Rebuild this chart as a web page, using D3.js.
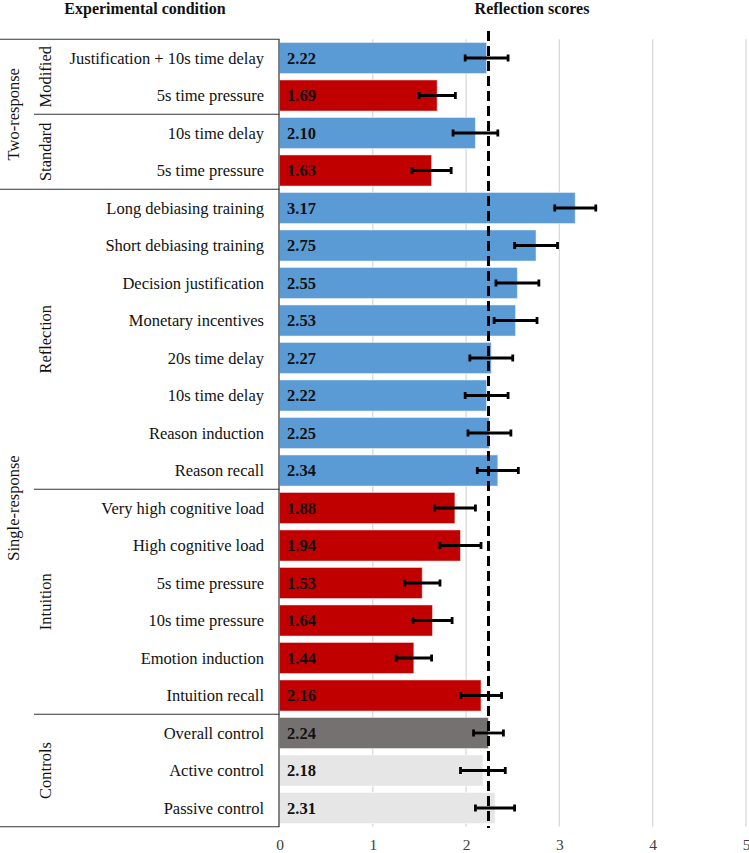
<!DOCTYPE html>
<html><head><meta charset="utf-8">
<script src="https://cdn.jsdelivr.net/npm/d3@7"></script>
<style>body{margin:0;background:#fff}svg{display:block}
svg text{font-family:"Liberation Serif","Times New Roman",Tinos,"DejaVu Serif",serif;}</style>
</head><body>
<script>
const categories = ["Justification + 10s time delay","5s time pressure","10s time delay","5s time pressure",
 "Long debiasing training","Short debiasing training","Decision justification","Monetary incentives",
 "20s time delay","10s time delay","Reason induction","Reason recall",
 "Very high cognitive load","High cognitive load","5s time pressure","10s time pressure","Emotion induction","Intuition recall",
 "Overall control","Active control","Passive control"];
const values = [2.22,1.69,2.10,1.63,3.17,2.75,2.55,2.53,2.27,2.22,2.25,2.34,1.88,1.94,1.53,1.64,1.44,2.16,2.24,2.18,2.31];
const errors = [0.23,0.195,0.24,0.21,0.22,0.23,0.23,0.23,0.23,0.23,0.23,0.22,0.22,0.22,0.19,0.21,0.19,0.22,0.16,0.24,0.21];
const kinds = ["R","I","R","I","R","R","R","R","R","R","R","R","I","I","I","I","I","I","O","C","C"];
const subGroups = [["Modified",0,1],["Standard",2,3],["Reflection",4,11],["Intuition",12,17],["Controls",18,20]];
const mainGroups = [["Two-response",0,3],["Single-response",4,20]];
const referenceValue = 2.24;
const ticks = [0,1,2,3,4,5];
const colorMap = {R:"#5B9BD5", I:"#C00000", O:"#767171", C:"#E7E6E6"};

(function(){
const W = 749, H = 853;
const svg = d3.select("body").append("svg").attr("width", W).attr("height", H);
const topY = 39.25, bottomY = 826.75;

const x = d3.scaleLinear().domain([0,5]).range([279.5, 746]);
const y = d3.scaleBand().domain(d3.range(categories.length)).range([topY, bottomY]).paddingInner(0.17).paddingOuter(0.085);
const bandFull = (bottomY-topY)/categories.length;
const rowTop = i => topY + i*bandFull;

svg.append("g").selectAll("line").data(ticks.filter(t=>t>0)).join("line")
  .attr("x1", d=>x(d)).attr("x2", d=>x(d)).attr("y1", topY).attr("y2", bottomY)
  .attr("stroke", "#d9d9d9").attr("stroke-width", 1.3);

const xAxis = d3.axisBottom(x).tickValues(ticks).tickSize(0).tickPadding(0).tickFormat(d3.format("d"));
const ax = svg.append("g").attr("transform", `translate(0,${bottomY+12})`).call(xAxis);
ax.attr("font-family", null);
ax.select(".domain").remove();
ax.selectAll("text").attr("font-size", 15.5).attr("fill", "#404040");

svg.append("g").selectAll("rect").data(values).join("rect")
  .attr("x", x(0)).attr("y", (d,i)=>y(i)).attr("width", d=>x(d)-x(0)).attr("height", y.bandwidth())
  .attr("fill", (d,i)=>colorMap[kinds[i]]).attr("stroke", "#fff").attr("stroke-opacity", 0.5).attr("stroke-width", 1);

svg.append("g").selectAll("text").data(values).join("text")
  .attr("x", 287).attr("y", (d,i)=>y(i)+y.bandwidth()/2).attr("dy", "0.35em")
  .attr("font-size", 16.5).attr("font-weight", "bold").attr("fill", "#111")
  .text(d=>d3.format(".2f")(d));

const eb = svg.append("g").selectAll("g").data(values).join("g");
eb.append("line").attr("x1",(d,i)=>x(d-errors[i])).attr("x2",(d,i)=>x(d+errors[i]))
  .attr("y1",(d,i)=>y(i)+y.bandwidth()/2).attr("y2",(d,i)=>y(i)+y.bandwidth()/2)
  .attr("stroke","#000").attr("stroke-width",2.8);
[-1,1].forEach(s=>{
  eb.append("line").attr("x1",(d,i)=>x(d+s*errors[i])).attr("x2",(d,i)=>x(d+s*errors[i]))
    .attr("y1",(d,i)=>y(i)+y.bandwidth()/2-3.5).attr("y2",(d,i)=>y(i)+y.bandwidth()/2+3.5)
    .attr("stroke","#000").attr("stroke-width",2.8);
});

svg.append("line").attr("x1", x(referenceValue)).attr("x2", x(referenceValue)).attr("y1", 31).attr("y2", 828)
  .attr("stroke","#000").attr("stroke-width",3).attr("stroke-dasharray","10,5");

const tl = svg.append("g").attr("stroke","#333").attr("stroke-width",1.2);
tl.append("line").attr("x1",0).attr("x2",x(0)).attr("y1",topY).attr("y2",topY);
tl.append("line").attr("x1",0).attr("x2",x(0)).attr("y1",bottomY).attr("y2",bottomY);
tl.append("line").attr("x1",x(0)-0.5).attr("x2",x(0)-0.5).attr("y1",topY).attr("y2",bottomY);
mainGroups.slice(1).forEach(g=>{
  tl.append("line").attr("x1",0).attr("x2",x(0)).attr("y1",rowTop(g[1])).attr("y2",rowTop(g[1]));
});
subGroups.forEach(g=>{
  if (mainGroups.some(m=>m[1]===g[1])) return;
  tl.append("line").attr("x1",34).attr("x2",x(0)).attr("y1",rowTop(g[1])).attr("y2",rowTop(g[1]));
});

svg.append("g").selectAll("text").data(categories).join("text")
  .attr("x", 264).attr("y",(d,i)=>y(i)+y.bandwidth()/2).attr("dy","0.35em").attr("text-anchor","end")
  .attr("font-size", 16.5).attr("fill","#111").text(d=>d);

function rot(list, cx){
  list.forEach(g=>{
    const cy = (rowTop(g[1]) + rowTop(g[2]+1))/2;
    svg.append("text").attr("transform",`translate(${cx},${cy}) rotate(-90)`)
      .attr("text-anchor","middle").attr("dy","0.35em")
      .attr("font-size", 16.5).attr("fill","#111").text(g[0]);
  });
}
rot(mainGroups, 13);
rot(subGroups, 45);

svg.append("text").attr("x",145).attr("y",14).attr("text-anchor","middle")
  .attr("font-size", 16).attr("font-weight","bold").attr("fill","#111").text("Experimental condition");
svg.append("text").attr("x",532).attr("y",14).attr("text-anchor","middle")
  .attr("font-size", 16).attr("font-weight","bold").attr("fill","#111").text("Reflection scores");
})();
</script>
</body></html>
